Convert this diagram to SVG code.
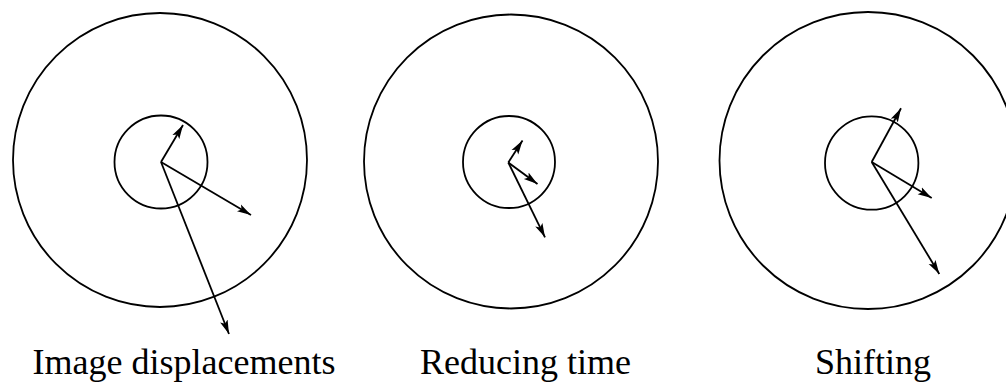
<svg xmlns="http://www.w3.org/2000/svg" width="1006" height="386" viewBox="0 0 1006 386">
<style>
.c{fill:none;stroke:#000;stroke-width:1.8}
.a{fill:none;stroke:#000;stroke-width:1.8;marker-end:url(#ah)}
.t{font-family:"Liberation Serif","Times New Roman",serif;font-size:36px;fill:#000;text-anchor:middle}
</style>
<defs>
<marker id="ah" markerUnits="userSpaceOnUse" markerWidth="16" markerHeight="10" refX="14" refY="5" orient="auto" viewBox="0 0 16 10">
<path d="M0,1 L14,5 L0,9 L3,5 Z" fill="#000"/>
</marker>
</defs>
<rect width="1006" height="386" fill="#fff"/>
<g id="panel1">
<circle class="c" cx="160" cy="160" r="147"/>
<circle class="c" cx="161" cy="162" r="46.5"/>
<text class="t" x="184" y="374">Image displacements</text>
</g>
<g id="panel2">
<circle class="c" cx="511" cy="161.5" r="147"/>
<circle class="c" cx="509" cy="162" r="46"/>
<text class="t" x="525.5" y="374">Reducing time</text>
</g>
<g id="panel3">
<circle class="c" cx="868" cy="160.5" r="148.5"/>
<circle class="c" cx="871.7" cy="163" r="46.7"/>
<text class="t" x="873" y="374">Shifting</text>
</g>
<g id="connectors">
<line class="a" x1="161" y1="162" x2="183" y2="125"/>
<line class="a" x1="161" y1="162" x2="251" y2="215"/>
<line class="a" x1="161" y1="162" x2="229" y2="334"/>
<line class="a" x1="508.3" y1="162.5" x2="522.5" y2="140.5"/>
<line class="a" x1="508.3" y1="162.5" x2="537.5" y2="184"/>
<line class="a" x1="508.3" y1="162.5" x2="545" y2="237.3"/>
<line class="a" x1="871.7" y1="162" x2="901" y2="108.3"/>
<line class="a" x1="871.7" y1="162" x2="931.7" y2="198"/>
<line class="a" x1="871.7" y1="162" x2="939.3" y2="274"/>
</g>
</svg>
